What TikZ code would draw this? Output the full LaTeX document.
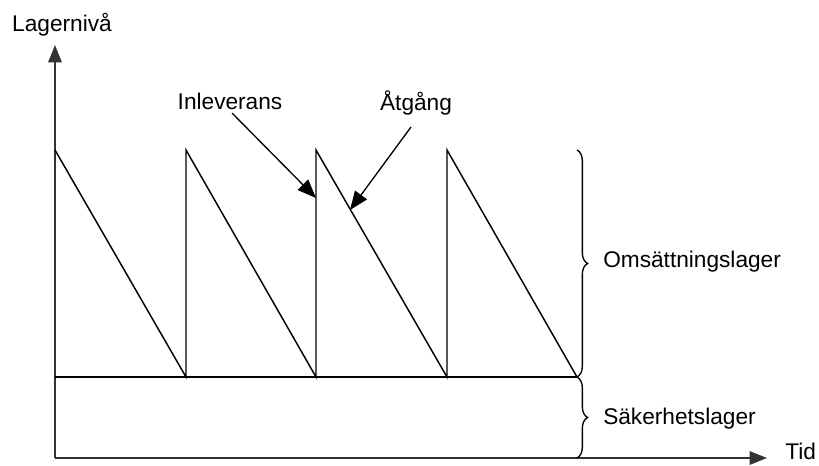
\documentclass[tikz,border=0pt]{standalone}
\usepackage{fontspec}
\setmainfont{Liberation Sans}
\usetikzlibrary{arrows.meta,decorations.pathreplacing}
\begin{document}
\begin{tikzpicture}[x=0.75pt,y=-0.75pt,
  axis/.style={line width=1.5pt,draw=black!80,-{Triangle[length=13pt,width=10pt]}},
  saw/.style={line width=1.1pt,draw=black},
  callout/.style={line width=1.0pt,-{Triangle[length=14pt,width=11pt]}},
  lbl/.style={font=\fontsize{17}{20}\selectfont,inner sep=0pt},
  brc/.style={line width=1.0pt,decorate,decoration={brace,amplitude=8pt}}]
\useasboundingbox (0,0) rectangle (819,465);
% coordinates
\coordinate (O) at (55,458);
\coordinate (Ytop) at (55,45);
\coordinate (Xend) at (767,458);
\coordinate (p0) at (55,150);
\coordinate (b1) at (186,377);
\coordinate (p1) at (186,150);
\coordinate (b2) at (316,377);
\coordinate (p2) at (316,150);
\coordinate (b3) at (447,377);
\coordinate (p3) at (447,150);
\coordinate (b4) at (577,377);
\coordinate (s0) at (55,377);
\coordinate (bt) at (577,150);
\coordinate (bb) at (577,458);
% axes
\draw[axis] (O) -- (Ytop);
\draw[axis] (O) -- (Xend);
% sawtooth and safety line
\draw[saw] (p0) -- (b1) -- (p1) -- (b2) -- (p2) -- (b3) -- (p3) -- (b4);
\draw[saw] (s0) -- (b4);
% labels
\node[lbl] (ylab) at (62,25) {Lagernivå};
\node[lbl,anchor=west] (xlab) at (785,451) {Tid};
\node[lbl] (inl) at (230,101) {Inleverans};
\node[lbl] (atg) at (416,103) {Åtgång};
\node[lbl,anchor=west] (oms) at (603,262) {Omsättningslager};
\node[lbl,anchor=west] (sak) at (603,419) {Säkerhetslager};
% callouts
\coordinate (inlS) at (232,113);
\coordinate (inlT) at (316,198);
\coordinate (atgS) at (411,127);
\coordinate (atgT) at (350,210);
\draw[callout] (inlS) -- (inlT);
\draw[callout] (atgS) -- (atgT);
% braces
\draw[brc] (bt) -- (b4);
\draw[brc] (b4) -- (bb);
\end{tikzpicture}
\end{document}
